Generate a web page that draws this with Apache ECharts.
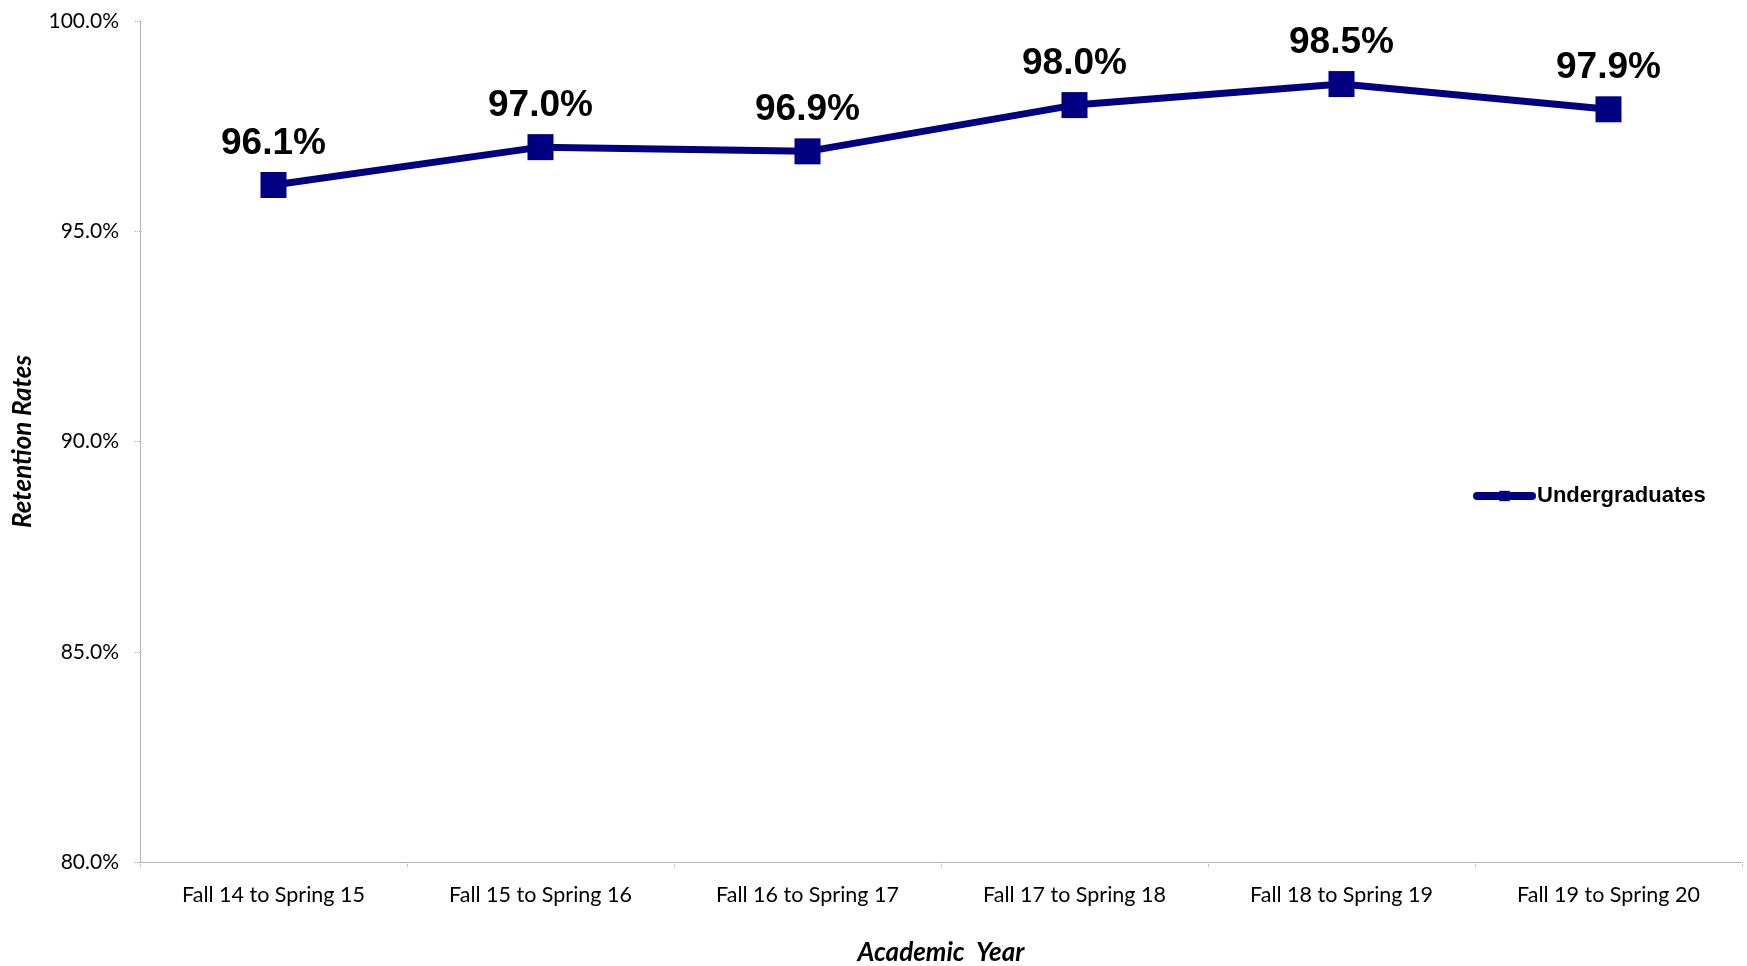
<!DOCTYPE html>
<html>
<head>
<meta charset="utf-8">
<script src="https://cdn.jsdelivr.net/npm/echarts@6/dist/echarts.min.js"></script>
<style>
html,body{margin:0;padding:0;background:#fff;}
#chart{width:1747px;height:966px;}
</style>
</head>
<body>
<div id="chart"></div>
<script>
const categories = ['Fall 14 to Spring 15','Fall 15 to Spring 16','Fall 16 to Spring 17','Fall 17 to Spring 18','Fall 18 to Spring 19','Fall 19 to Spring 20'];
const undergraduates = [96.1, 97.0, 96.9, 98.0, 98.5, 97.9];
const yMin = 80, yMax = 100, yStep = 5;

const chart = echarts.init(document.getElementById('chart'));
const navy = '#000080';
const axisGrey = '#a6a6a6';
chart.setOption({
  animation: false,
  backgroundColor: '#fff',
  grid: {left: 140, right: 5, top: 21, bottom: 104, containLabel: false, outerBoundsMode: 'none'},
  legend: {
    left: 1468, top: 480,
    itemWidth: 55, itemHeight: 13,
    itemGap: 4,
    lineStyle: {width: 8, cap: 'round', color: navy},
    textStyle: {fontFamily: 'Liberation Sans, Arial, sans-serif', fontWeight: 'bold', fontSize: 22, color: '#000'},
    data: ['Undergraduates']
  },
  xAxis: {
    type: 'category',
    data: categories,
    boundaryGap: true,
    name: 'Academic  Year',
    nameLocation: 'middle',
    nameGap: 78,
    nameTextStyle: {fontFamily: 'Lato, Carlito, sans-serif', fontWeight: 'bold', fontStyle: 'italic', fontSize: 26, color: '#000'},
    axisLine: {show: true, lineStyle: {color: axisGrey, type: 'dotted', width: 1}},
    axisTick: {show: true, length: 6, lineStyle: {color: axisGrey, type: 'dotted'}},
    axisLabel: {margin: 22, fontFamily: 'Lato, Carlito, sans-serif', fontSize: 21.5, color: '#000'},
    splitLine: {show: false}
  },
  yAxis: {
    type: 'value',
    min: yMin, max: yMax, interval: yStep,
    name: 'Retention Rates',
    nameLocation: 'middle',
    nameGap: 104,
    nameRotate: 90,
    nameTextStyle: {fontFamily: 'Lato, Carlito, sans-serif', fontWeight: 'bold', fontStyle: 'italic', fontSize: 26, color: '#000'},
    axisLine: {show: true, lineStyle: {color: axisGrey, type: 'dotted', width: 1}},
    axisTick: {show: true, length: 6, lineStyle: {color: axisGrey, type: 'dotted'}},
    axisLabel: {margin: 21, fontFamily: 'Lato, Carlito, sans-serif', fontSize: 21, color: '#000',
      formatter: v => v.toFixed(1) + '%'},
    splitLine: {show: false}
  },
  series: [{
    name: 'Undergraduates',
    type: 'line',
    data: undergraduates,
    symbol: 'rect',
    symbolSize: 26,
    lineStyle: {color: navy, width: 7},
    itemStyle: {color: navy},
    label: {
      show: true, position: 'top', distance: 10,
      fontFamily: 'Liberation Sans, Arial, sans-serif', fontWeight: 'bold', fontSize: 37, color: '#000',
      formatter: p => p.value.toFixed(1) + '%'
    }
  }]
});
</script>
</body>
</html>
